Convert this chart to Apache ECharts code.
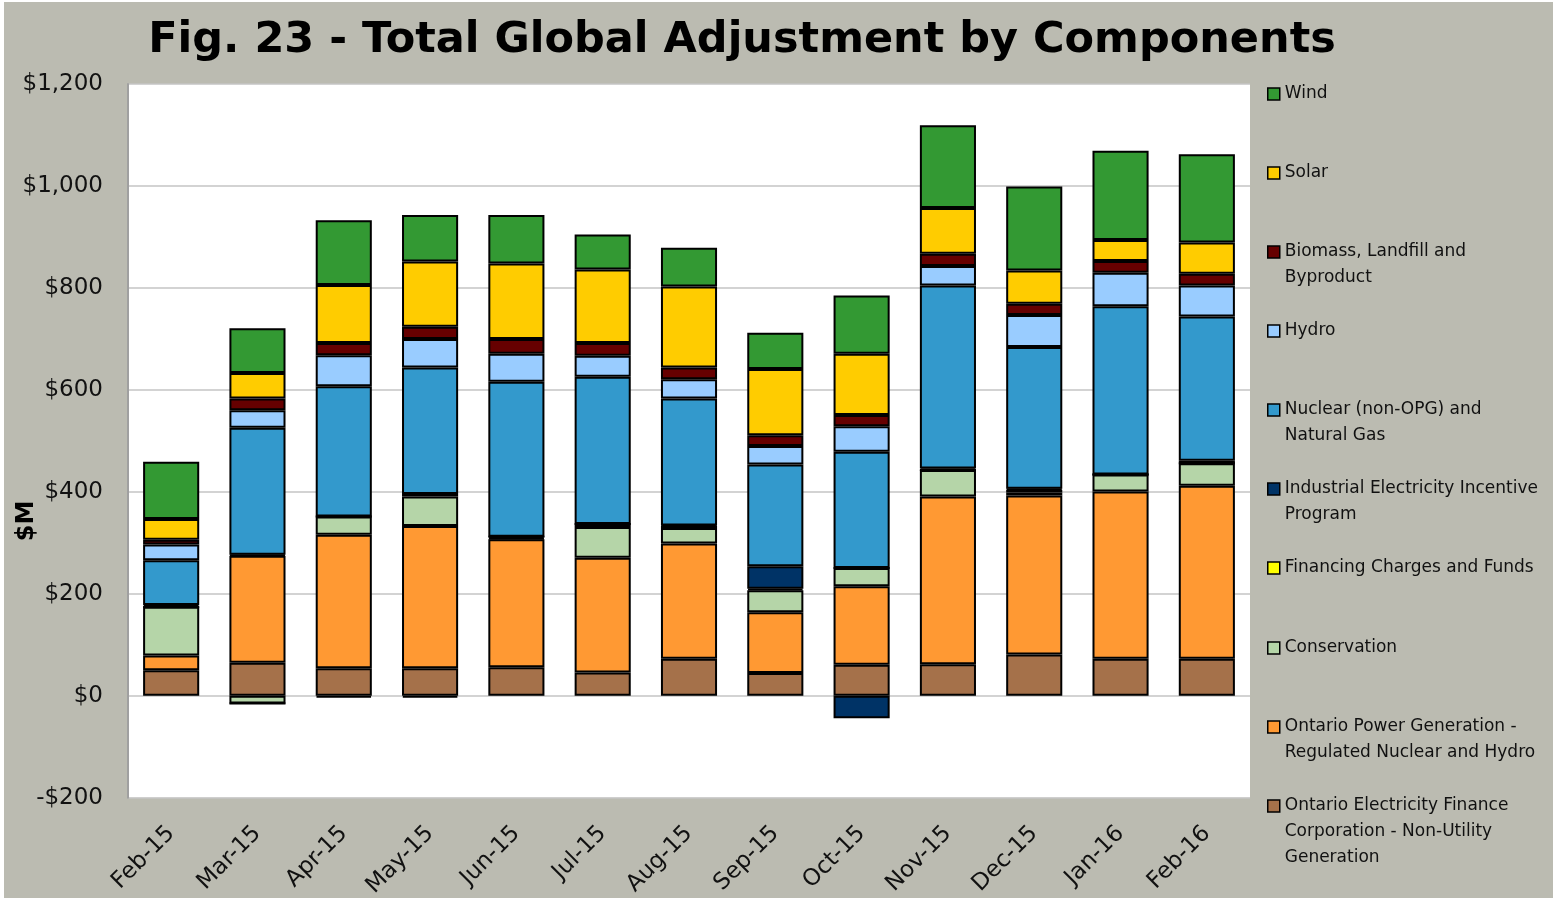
<!DOCTYPE html>
<html>
<head>
<meta charset="utf-8">
<script src="https://cdn.jsdelivr.net/npm/echarts@6/dist/echarts.min.js"></script>
<style>
html,body{margin:0;padding:0;background:#fff;}
#chart{width:1555px;height:900px;}
</style>
</head>
<body>
<div id="chart"></div>
<script>
// ---- data ----
const months = ['Feb-15','Mar-15','Apr-15','May-15','Jun-15','Jul-15','Aug-15','Sep-15','Oct-15','Nov-15','Dec-15','Jan-16','Feb-16'];
const yTicks = [-200, 0, 200, 400, 600, 800, 1000, 1200];

const oefc         = [50, 65, 54, 54, 56, 46, 73, 45, 61, 62, 81, 73, 73];
const opg          = [29, 210, 262, 279, 251, 225, 226, 119, 154, 329, 312, 328, 339];
const conservation = [96, -15, 36, 58, 2, 60, 30, 43, 36, 52, 6, 33, 44];
const financing    = [0, 0, 0, 5, 3, 6, 4, 3, 0, 0, 5, 0, 0];
const ieip         = [3, 2, -3, -3, 0, 0, 1, 44, -44, 3, 2, 0, 5];
const nuclear      = [88, 249, 255, 248, 304, 289, 249, 200, 228, 359, 278, 330, 283];
const hydro        = [31, 34, 61, 56, 55, 41, 38, 36, 50, 38, 63, 66, 61];
const biomass      = [9, 23, 24, 24, 29, 25, 23, 21, 22, 24, 22, 23, 23];
const solar        = [41, 50, 114, 128, 148, 144, 159, 130, 120, 90, 65, 41, 61];
const wind         = [112, 88, 127, 91, 95, 69, 76, 71, 114, 162, 165, 175, 173];

const seriesNames = [
  'Ontario Electricity Finance Corporation - Non-Utility Generation',
  'Ontario Power Generation - Regulated Nuclear and Hydro',
  'Conservation',
  'Financing Charges and Funds',
  'Industrial Electricity Incentive Program',
  'Nuclear (non-OPG) and Natural Gas',
  'Hydro',
  'Biomass, Landfill and Byproduct',
  'Solar',
  'Wind'
];
const legendLabels = [
  'Ontario Electricity Finance\nCorporation - Non-Utility\nGeneration',
  'Ontario Power Generation -\nRegulated Nuclear and Hydro',
  'Conservation',
  'Financing Charges and Funds',
  'Industrial Electricity Incentive\nProgram',
  'Nuclear (non-OPG) and\nNatural Gas',
  'Hydro',
  'Biomass, Landfill and\nByproduct',
  'Solar',
  'Wind'
];
const seriesData = [oefc, opg, conservation, financing, ieip, nuclear, hydro, biomass, solar, wind];
const colors = ['#A5714A', '#FF9933', '#B5D5A8', '#FFFF00', '#003366', '#3399CC', '#99CCFF', '#660000', '#FFCC00', '#339933'];

// ---- layout ----
const FONT = '"DejaVu Sans", Verdana, sans-serif';
const legendCenters = [806, 727, 648, 568, 489, 410, 331, 252, 173, 94]; // icon centre y, same order as seriesNames
const LINE_H = 26;

function padLegend(label) {
  const lines = label.split('\n');
  const out = ['', ''].concat(lines);
  while (out.length < 5) out.push('');
  return out.join('\n');
}

const legends = seriesNames.map((name, i) => ({
  data: [name],
  orient: 'vertical',
  left: 1267,
  top: legendCenters[i] - 65,
  padding: 0,
  itemWidth: 12,
  itemHeight: 12,
  icon: 'rect',
  selectedMode: false,
  itemStyle: { borderColor: '#000', borderWidth: 1.5 },
  textStyle: { fontFamily: FONT, fontSize: 17, color: '#111', lineHeight: LINE_H },
  formatter: () => padLegend(legendLabels[i])
}));

const chart = echarts.init(document.getElementById('chart'));
chart.setOption({
  animation: false,
  backgroundColor: '#fff',
  title: {
    text: 'Fig. 23 - Total Global Adjustment by Components',
    left: 737,
    top: 14,
    textAlign: 'center',
    textStyle: { fontFamily: FONT, fontSize: 43, fontWeight: 'bold', color: '#000' }
  },
  graphic: [
    { type: 'rect', z: -10, silent: true, shape: { x: 4, y: 2, width: 1549, height: 896 }, style: { fill: '#BBBBB1' } },
    { type: 'text', z: 10, x: 27, y: 521, rotation: Math.PI / 2,
      style: { text: '$M', font: 'bold 24px ' + FONT, fill: '#000', align: 'center', verticalAlign: 'middle' } }
  ],
  legend: legends,
  grid: {
    left: 128, right: 305, top: 84, bottom: 100,
    show: true, backgroundColor: '#fff', borderWidth: 0, containLabel: false
  },
  xAxis: {
    type: 'category',
    data: months,
    axisLine: { show: false, onZero: false },
    axisTick: { show: false },
    axisLabel: { rotate: 45, margin: 32, fontFamily: FONT, fontSize: 23, color: '#111', interval: 0 },
    splitLine: { show: false }
  },
  yAxis: {
    type: 'value',
    min: yTicks[0],
    max: yTicks[yTicks.length - 1],
    interval: 200,
    axisLine: { show: true, lineStyle: { color: '#A0A0A0', width: 2 } },
    axisTick: { show: false },
    splitLine: { show: true, lineStyle: { color: '#C4C4C4', width: 1.5 } },
    axisLabel: {
      margin: 25, fontFamily: FONT, fontSize: 23, color: '#111',
      formatter: v => (v < 0 ? '-$' : '$') + Math.abs(v).toLocaleString('en-US')
    }
  },
  series: seriesNames.map((name, i) => ({
    name: name,
    type: 'bar',
    stack: 'total',
    barWidth: '65%',
    data: seriesData[i],
    itemStyle: { color: colors[i], borderColor: '#000', borderWidth: 2 },
    emphasis: { disabled: true }
  }))
});
</script>
</body>
</html>
